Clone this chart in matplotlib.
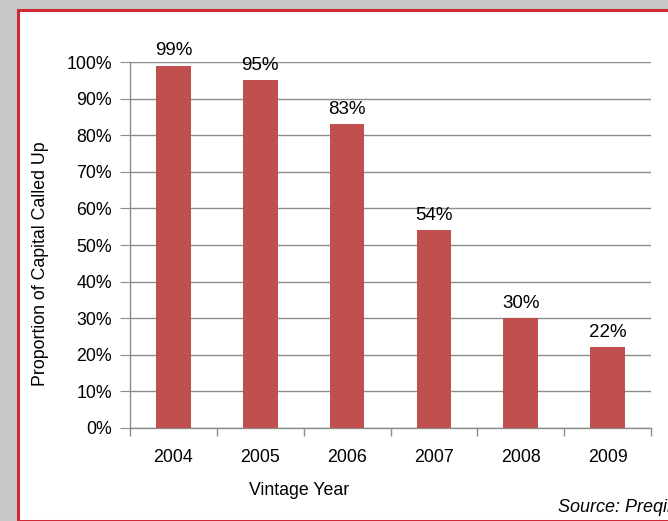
import matplotlib.pyplot as plt
from matplotlib.patches import Rectangle
from matplotlib.ticker import FuncFormatter, FixedLocator

plt.rcParams['font.family'] = ['Liberation Sans', 'DejaVu Sans']

# -----------------------
# Data
# -----------------------
years = ["2004", "2005", "2006", "2007", "2008", "2009"]
called_up = [99, 95, 83, 54, 30, 22]   # percent of capital called up

BAR_COLOR = "#c0504d"
GRID_COLOR = "#8c8c8c"
W, H = 668, 521
FS = 12.8

fig = plt.figure(figsize=(W / 100, H / 100), dpi=100)
fig.patch.set_facecolor("#c8c8c8")

# white panel with red frame
fig.patches.append(Rectangle((18 / W, 0), 1, 1 - 10 / H, transform=fig.transFigure,
                             facecolor="white", edgecolor="#cc2b36", linewidth=2.2,
                             zorder=-1))

ax = fig.add_axes([130 / W, (H - 428) / H, (651 - 130) / W, (428 - 62) / H])
ax.set_zorder(2)
ax.set_facecolor("none")

x = list(range(len(years)))
ax.bar(x, called_up, width=0.4, color=BAR_COLOR, zorder=3)

for xi, v in zip(x, called_up):
    ax.annotate(f"{v}%", (xi, v), xytext=(0, 4.5), textcoords="offset points",
                ha="center", va="bottom", fontsize=13.5, color="black")

ax.set_xlim(-0.5, len(years) - 0.5)
ax.set_ylim(0, 100)
ax.set_yticks(range(0, 101, 10))
ax.yaxis.set_major_formatter(FuncFormatter(lambda v, _: f"{int(v)}%"))
ax.grid(axis="y", color=GRID_COLOR, linewidth=1, zorder=0)

# category labels centred, tick marks between categories
ax.set_xticks(x)
ax.set_xticklabels(years, fontsize=FS)
ax.tick_params(axis="x", length=0, pad=15)
ax.xaxis.set_minor_locator(FixedLocator([i - 0.5 for i in range(len(years) + 1)]))
ax.tick_params(axis="x", which="minor", length=6, color=GRID_COLOR, width=1)
ax.tick_params(axis="y", length=7, color=GRID_COLOR, labelsize=FS, pad=6)

for side in ["top", "right"]:
    ax.spines[side].set_visible(False)
for side in ["left", "bottom"]:
    ax.spines[side].set_color(GRID_COLOR)
    ax.spines[side].set_linewidth(1)

ax.set_xlabel("Vintage Year", fontsize=FS)
ax.set_ylabel("Proportion of Capital Called Up", fontsize=FS)
ax.xaxis.set_label_coords(0.324, -0.172)
ax.yaxis.set_label_coords(-0.171, 0.45)
ax.xaxis.label.set_va("center")
ax.yaxis.label.set_va("center")

fig.text(558 / W, 1 - 507 / H, "Source: Preqin", fontsize=13, style="italic",
         ha="left", va="center", zorder=3)

fig.savefig("out.png", dpi=100, facecolor=fig.get_facecolor())
